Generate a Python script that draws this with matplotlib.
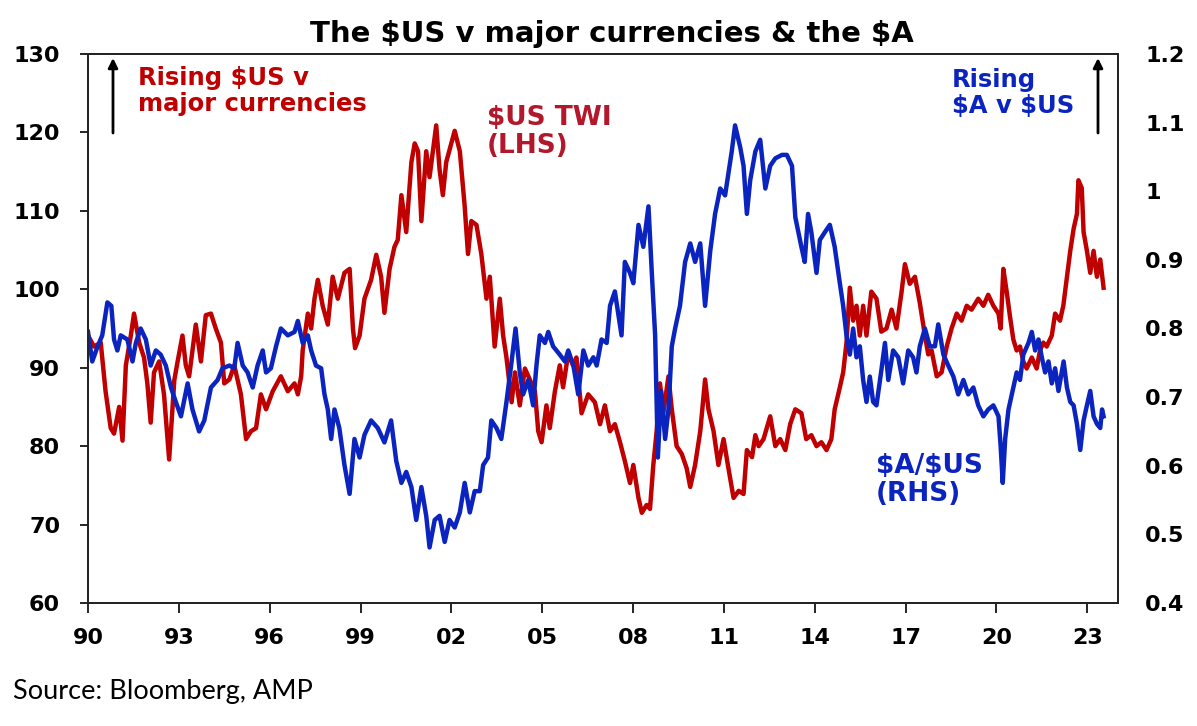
import numpy as np
import matplotlib
matplotlib.use('Agg')
import matplotlib.pyplot as plt

plt.rcParams['text.parse_math'] = False

# $US TWI (left axis)
twi_year = [1990.0, 1990.2, 1990.42, 1990.58, 1990.75, 1990.86, 1991.03, 1991.14, 1991.25, 1991.41,
            1991.52, 1991.69, 1991.85, 1991.96, 1992.07, 1992.18, 1992.35, 1992.51, 1992.68, 1992.85,
            1992.96, 1993.12, 1993.23, 1993.34, 1993.56, 1993.73, 1993.89, 1994.06, 1994.22, 1994.39,
            1994.5, 1994.67, 1994.83, 1995.05, 1995.22, 1995.38, 1995.55, 1995.71, 1995.88, 1996.1,
            1996.37, 1996.6, 1996.82, 1996.93, 1997.04, 1997.09, 1997.26, 1997.37, 1997.48, 1997.59,
            1997.75, 1997.92, 1998.08, 1998.25, 1998.47, 1998.64, 1998.75, 1998.82, 1998.97, 1999.13,
            1999.35, 1999.52, 1999.68, 1999.79, 1999.96, 2000.12, 2000.23, 2000.35, 2000.51, 2000.68,
            2000.79, 2000.9, 2001.01, 2001.17, 2001.28, 2001.5, 2001.61, 2001.72, 2001.83, 2002.11,
            2002.28, 2002.44, 2002.55, 2002.66, 2002.83, 2002.99, 2003.16, 2003.27, 2003.43, 2003.6,
            2003.71, 2003.82, 2003.99, 2004.1, 2004.26, 2004.43, 2004.59, 2004.76, 2004.87, 2004.98,
            2005.14, 2005.25, 2005.42, 2005.58, 2005.69, 2005.86, 2006.02, 2006.13, 2006.3, 2006.52,
            2006.74, 2006.91, 2007.07, 2007.24, 2007.4, 2007.57, 2007.73, 2007.9, 2008.01, 2008.18,
            2008.29, 2008.45, 2008.56, 2008.67, 2008.78, 2008.89, 2009.0, 2009.17, 2009.28, 2009.44,
            2009.61, 2009.77, 2009.89, 2010.05, 2010.22, 2010.38, 2010.49, 2010.66, 2010.82, 2010.99,
            2011.15, 2011.32, 2011.49, 2011.65, 2011.76, 2011.93, 2012.04, 2012.15, 2012.31, 2012.53,
            2012.7, 2012.86, 2013.03, 2013.19, 2013.36, 2013.56, 2013.72, 2013.89, 2014.06, 2014.22,
            2014.39, 2014.55, 2014.66, 2014.83, 2014.94, 2015.05, 2015.16, 2015.27, 2015.38, 2015.49,
            2015.6, 2015.71, 2015.87, 2016.04, 2016.2, 2016.37, 2016.54, 2016.7, 2016.87, 2016.98,
            2017.14, 2017.31, 2017.47, 2017.64, 2017.75, 2017.86, 2018.03, 2018.19, 2018.36, 2018.52,
            2018.69, 2018.85, 2019.02, 2019.18, 2019.4, 2019.57, 2019.73, 2019.9, 2020.07, 2020.14,
            2020.23, 2020.34, 2020.45, 2020.56, 2020.67, 2020.78, 2020.89, 2021.0, 2021.17, 2021.33,
            2021.44, 2021.55, 2021.66, 2021.83, 2021.94, 2022.1, 2022.21, 2022.33, 2022.44, 2022.55,
            2022.66, 2022.71, 2022.82, 2022.88, 2022.99, 2023.1, 2023.21, 2023.32, 2023.43, 2023.54]
twi = [94.1, 92.7, 93.2, 87.0, 82.3, 81.6, 85.0, 80.7, 90.3, 94.0,
       96.9, 93.2, 91.3, 88.0, 83.0, 89.4, 90.8, 86.6, 78.3, 88.4,
       90.8, 94.1, 90.3, 88.9, 95.5, 90.8, 96.7, 96.9, 95.0, 93.2,
       88.0, 88.5, 90.3, 86.6, 80.9, 81.9, 82.3, 86.6, 84.7, 87.0,
       88.9, 87.0, 88.0, 86.6, 88.9, 92.2, 96.9, 95.0, 98.8, 101.2,
       97.9, 95.5, 101.6, 98.8, 102.1, 102.6, 95.0, 92.5, 94.1, 98.8,
       101.2, 104.4, 101.6, 97.0, 102.6, 105.4, 106.3, 112.0, 107.3, 116.2,
       118.6, 117.6, 108.7, 117.6, 114.3, 120.9, 115.3, 112.0, 116.2, 120.2,
       117.6, 110.6, 104.5, 108.7, 108.2, 104.5, 98.8, 101.6, 92.7, 98.8,
       94.1, 91.3, 85.6, 89.4, 85.2, 89.9, 88.5, 87.0, 81.9, 80.5,
       85.2, 82.3, 87.0, 90.3, 87.5, 91.8, 90.3, 91.3, 84.2, 86.6,
       85.6, 82.8, 85.2, 81.9, 82.8, 80.5, 78.1, 75.3, 77.6, 73.4,
       71.5, 72.5, 72.0, 77.6, 81.9, 88.0, 84.2, 88.9, 84.7, 80.0,
       79.0, 77.2, 74.8, 77.6, 81.9, 88.5, 84.7, 81.9, 77.6, 80.9,
       77.2, 73.4, 74.3, 73.9, 79.5, 78.6, 81.4, 80.0, 80.9, 83.8,
       80.0, 80.9, 79.5, 82.8, 84.7, 84.2, 80.9, 81.4, 80.0, 80.5,
       79.5, 80.9, 84.7, 87.5, 89.4, 93.2, 100.2, 96.0, 97.9, 94.1,
       97.9, 94.1, 99.7, 98.8, 94.6, 95.0, 97.4, 95.0, 99.7, 103.2,
       100.7, 101.6, 98.3, 94.1, 91.7, 92.2, 88.9, 89.4, 92.7, 95.0,
       96.9, 96.0, 97.9, 97.4, 98.8, 97.9, 99.3, 97.9, 96.9, 95.0,
       102.6, 99.7, 96.5, 93.6, 92.2, 92.7, 90.8, 89.9, 91.3, 89.9,
       92.2, 93.2, 92.7, 94.1, 96.9, 96.0, 97.9, 101.6, 104.9, 107.7,
       109.6, 113.9, 112.9, 107.3, 104.9, 102.1, 104.9, 101.6, 103.8, 100.2]

# $A/$US (right axis)
aud_year = [1990.0, 1990.14, 1990.31, 1990.47, 1990.64, 1990.77, 1990.86, 1990.97, 1991.08, 1991.3,
            1991.47, 1991.58, 1991.74, 1991.91, 1992.07, 1992.24, 1992.4, 1992.57, 1992.74, 1992.9,
            1993.07, 1993.29, 1993.45, 1993.67, 1993.84, 1994.06, 1994.28, 1994.44, 1994.67, 1994.83,
            1994.94, 1995.11, 1995.27, 1995.44, 1995.6, 1995.77, 1995.88, 1996.04, 1996.21, 1996.37,
            1996.6, 1996.82, 1996.93, 1997.09, 1997.26, 1997.37, 1997.53, 1997.7, 1997.81, 1997.92,
            1998.03, 1998.14, 1998.3, 1998.47, 1998.64, 1998.8, 1998.97, 1999.13, 1999.35, 1999.57,
            1999.79, 2000.01, 2000.18, 2000.35, 2000.51, 2000.68, 2000.84, 2001.01, 2001.17, 2001.28,
            2001.45, 2001.61, 2001.78, 2001.94, 2002.11, 2002.28, 2002.44, 2002.61, 2002.77, 2002.94,
            2003.05, 2003.21, 2003.32, 2003.49, 2003.65, 2003.82, 2003.99, 2004.12, 2004.26, 2004.37,
            2004.54, 2004.7, 2004.81, 2004.92, 2005.09, 2005.2, 2005.36, 2005.58, 2005.75, 2005.86,
            2006.03, 2006.19, 2006.36, 2006.52, 2006.69, 2006.8, 2006.96, 2007.13, 2007.24, 2007.4,
            2007.62, 2007.73, 2007.9, 2008.01, 2008.18, 2008.34, 2008.51, 2008.62, 2008.73, 2008.82,
            2008.93, 2009.06, 2009.17, 2009.28, 2009.39, 2009.55, 2009.72, 2009.89, 2010.05, 2010.22,
            2010.38, 2010.55, 2010.71, 2010.88, 2011.04, 2011.26, 2011.37, 2011.54, 2011.65, 2011.76,
            2011.87, 2012.04, 2012.2, 2012.37, 2012.53, 2012.7, 2012.92, 2013.08, 2013.25, 2013.36,
            2013.56, 2013.67, 2013.78, 2013.89, 2014.06, 2014.17, 2014.33, 2014.5, 2014.66, 2014.83,
            2014.94, 2015.05, 2015.16, 2015.27, 2015.38, 2015.49, 2015.6, 2015.71, 2015.82, 2015.93,
            2016.04, 2016.21, 2016.32, 2016.43, 2016.59, 2016.76, 2016.92, 2017.09, 2017.25, 2017.36,
            2017.47, 2017.64, 2017.8, 2017.97, 2018.08, 2018.25, 2018.41, 2018.58, 2018.74, 2018.91,
            2019.07, 2019.24, 2019.4, 2019.57, 2019.73, 2019.9, 2020.07, 2020.14, 2020.21, 2020.29,
            2020.4, 2020.56, 2020.67, 2020.78, 2020.89, 2021.06, 2021.17, 2021.28, 2021.39, 2021.5,
            2021.61, 2021.72, 2021.83, 2021.94, 2022.05, 2022.22, 2022.33, 2022.44, 2022.55, 2022.66,
            2022.77, 2022.88, 2022.99, 2023.1, 2023.21, 2023.32, 2023.43, 2023.49, 2023.54]
aud = [0.795, 0.752, 0.773, 0.790, 0.838, 0.833, 0.784, 0.768, 0.790, 0.784,
       0.752, 0.779, 0.800, 0.784, 0.746, 0.768, 0.762, 0.746, 0.714, 0.693,
       0.672, 0.720, 0.682, 0.650, 0.666, 0.714, 0.725, 0.742, 0.746, 0.742,
       0.779, 0.746, 0.736, 0.714, 0.746, 0.768, 0.736, 0.742, 0.774, 0.800,
       0.790, 0.795, 0.811, 0.779, 0.790, 0.768, 0.746, 0.742, 0.704, 0.682,
       0.639, 0.682, 0.655, 0.601, 0.559, 0.639, 0.612, 0.645, 0.666, 0.655,
       0.634, 0.666, 0.607, 0.575, 0.591, 0.569, 0.521, 0.569, 0.527, 0.481,
       0.521, 0.527, 0.489, 0.521, 0.510, 0.532, 0.575, 0.532, 0.563, 0.563,
       0.601, 0.612, 0.666, 0.655, 0.639, 0.693, 0.752, 0.800, 0.736, 0.704,
       0.725, 0.688, 0.746, 0.790, 0.779, 0.795, 0.774, 0.762, 0.752, 0.768,
       0.746, 0.704, 0.768, 0.746, 0.758, 0.746, 0.784, 0.779, 0.833, 0.854,
       0.790, 0.897, 0.881, 0.866, 0.951, 0.919, 0.978, 0.881, 0.790, 0.612,
       0.709, 0.639, 0.682, 0.774, 0.800, 0.833, 0.897, 0.924, 0.897, 0.924,
       0.833, 0.913, 0.967, 1.004, 0.994, 1.058, 1.096, 1.064, 1.037, 0.967,
       1.016, 1.058, 1.075, 1.004, 1.037, 1.048, 1.053, 1.053, 1.037, 0.962,
       0.919, 0.897, 0.967, 0.940, 0.881, 0.929, 0.940, 0.951, 0.919, 0.866,
       0.833, 0.790, 0.762, 0.800, 0.758, 0.774, 0.725, 0.693, 0.730, 0.693,
       0.688, 0.742, 0.779, 0.725, 0.768, 0.758, 0.720, 0.768, 0.758, 0.736,
       0.774, 0.800, 0.774, 0.774, 0.806, 0.762, 0.746, 0.730, 0.704, 0.725,
       0.704, 0.714, 0.688, 0.672, 0.682, 0.688, 0.672, 0.629, 0.575, 0.639,
       0.682, 0.714, 0.736, 0.725, 0.762, 0.779, 0.795, 0.768, 0.784, 0.758,
       0.736, 0.752, 0.720, 0.742, 0.709, 0.752, 0.714, 0.693, 0.688, 0.661,
       0.623, 0.666, 0.688, 0.709, 0.672, 0.661, 0.655, 0.682, 0.672]

x_ticks = [1990, 1993, 1996, 1999, 2002, 2005, 2008, 2011, 2014, 2017, 2020, 2023]
x_labels = ['90', '93', '96', '99', '02', '05', '08', '11', '14', '17', '20', '23']
left_ticks = [60, 70, 80, 90, 100, 110, 120, 130]
right_ticks = [0.4, 0.5, 0.6, 0.7, 0.8, 0.9, 1.0, 1.1, 1.2]
right_labels = ['0.4', '0.5', '0.6', '0.7', '0.8', '0.9', '1', '1.1', '1.2']

RED = '#C00000'
BLUE = '#0B24BF'
W, H = 1197, 726

fig = plt.figure(figsize=(W / 100, H / 100), dpi=100)
ax = fig.add_axes([88 / W, 1 - 603 / H, (1117.5 - 88) / W, (603 - 54) / H])
ax2 = ax.twinx()

ax.plot(twi_year, twi, color=RED, lw=3.2, solid_joinstyle='round')
ax2.plot(aud_year, aud, color=BLUE, lw=3.2, solid_joinstyle='round')

ax.set_xlim(1990, 2024.0)
ax.set_ylim(60, 130)
ax2.set_ylim(0.4, 1.2)

ax.set_xticks(x_ticks)
ax.set_xticklabels(x_labels, fontsize=16, fontweight='bold')
ax.set_yticks(left_ticks)
ax.set_yticklabels([str(v) for v in left_ticks], fontsize=16, fontweight='bold')
ax2.set_yticks(right_ticks)
ax2.set_yticklabels(right_labels, fontsize=16, fontweight='bold')

ax.tick_params(axis='x', direction='out', length=7, width=1.2, pad=11)
ax.tick_params(axis='y', direction='out', length=6, width=1.2, pad=14)
ax2.tick_params(axis='y', length=0, pad=20)
for a in (ax, ax2):
    for s in a.spines.values():
        s.set_linewidth(1.3)
        s.set_color('#222222')

# title and source
fig.text(612 / W, 1 - 42 / H, 'The $US v major currencies & the $A', ha='center',
         va='baseline', fontsize=21, fontweight='bold')
fig.text(13 / W, 1 - 699 / H, 'Source: Bloomberg, AMP', ha='left', va='baseline',
         fontsize=19.5, family='Lato')

# annotations
fig.text(138 / W, 1 - 66 / H, 'Rising $US v\nmajor currencies', ha='left', va='top',
         fontsize=17.5, fontweight='bold', color=RED, linespacing=1.1)
fig.text(487 / W, 1 - 105 / H, '$US TWI\n(LHS)', ha='left', va='top',
         fontsize=19, fontweight='bold', color='#B3172B', linespacing=1.1)
fig.text(952 / W, 1 - 68 / H, 'Rising\n$A v $US', ha='left', va='top',
         fontsize=17.5, fontweight='bold', color=BLUE, linespacing=1.1)
fig.text(876 / W, 1 - 453 / H, '$A/$US\n(RHS)', ha='left', va='top',
         fontsize=19, fontweight='bold', color=BLUE, linespacing=1.1)

arrow = dict(arrowstyle='-|>', color='black', lw=2, mutation_scale=14, shrinkA=0, shrinkB=0)
ax.annotate('', xy=(113 / W, 1 - 58 / H), xytext=(113 / W, 1 - 133 / H),
            xycoords='figure fraction', textcoords='figure fraction', arrowprops=arrow)
ax.annotate('', xy=(1098 / W, 1 - 58 / H), xytext=(1098 / W, 1 - 133 / H),
            xycoords='figure fraction', textcoords='figure fraction', arrowprops=arrow)

fig.savefig('out.png', dpi=100, facecolor='white')
